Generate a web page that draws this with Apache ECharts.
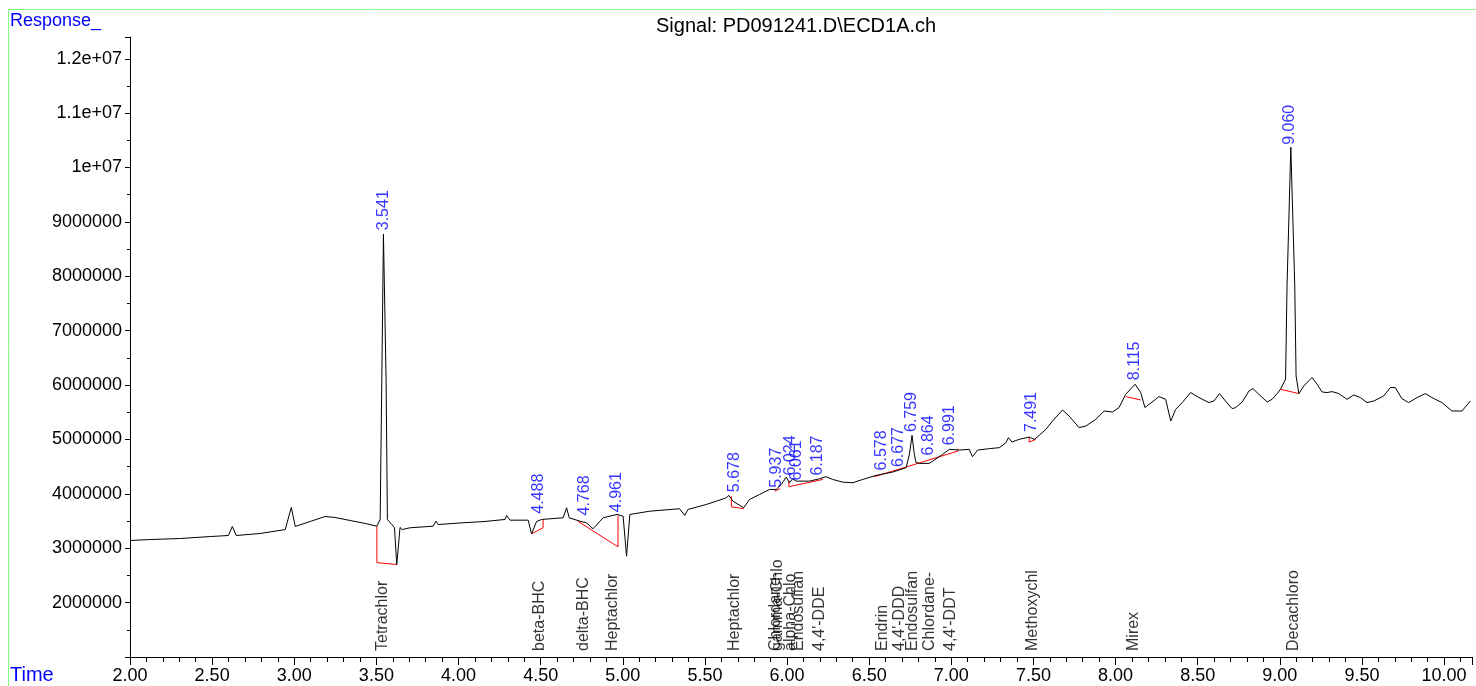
<!doctype html>
<html>
<head>
<meta charset="utf-8">
<title>Signal: PD091241.D\ECD1A.ch</title>
<style>
  html, body { margin: 0; padding: 0; background: #fff; }
  #main { width: 1476px; height: 686px; }
</style>
</head>
<body>
<div id="main"></div>
<script src="https://cdn.jsdelivr.net/npm/echarts@6/dist/echarts.min.js"></script>
<script>
// retention time (min) and detector response
var times = [
  2.00, 2.125, 2.307, 2.489, 2.599, 2.623, 2.647, 2.793, 2.945, 2.982,
  3.006, 3.097, 3.188, 3.249, 3.340, 3.432, 3.503, 3.523, 3.533, 3.543,
  3.559, 3.567, 3.594, 3.610, 3.624, 3.644, 3.657, 3.705, 3.845, 3.863,
  3.877, 4.027, 4.161, 4.283, 4.293, 4.313, 4.424, 4.445, 4.475, 4.506,
  4.637, 4.658, 4.674, 4.739, 4.779, 4.819, 4.880, 4.965, 5.002, 5.023,
  5.043, 5.164, 5.346, 5.377, 5.397, 5.509, 5.570, 5.630, 5.646, 5.670,
  5.736, 5.772, 5.833, 5.894, 5.934, 5.965, 5.995, 6.015, 6.035, 6.056,
  6.137, 6.198, 6.238, 6.278, 6.339, 6.400, 6.461, 6.542, 6.643, 6.725,
  6.745, 6.761, 6.775, 6.785, 6.805, 6.866, 6.886, 6.947, 6.988, 7.049,
  7.109, 7.129, 7.160, 7.231, 7.292, 7.333, 7.348, 7.369, 7.413, 7.474,
  7.505, 7.535, 7.576, 7.616, 7.677, 7.717, 7.778, 7.819, 7.880, 7.930,
  7.981, 8.021, 8.062, 8.119, 8.153, 8.179, 8.204, 8.244, 8.264, 8.305,
  8.336, 8.366, 8.406, 8.457, 8.508, 8.568, 8.599, 8.633, 8.669, 8.710,
  8.731, 8.771, 8.812, 8.836, 8.872, 8.923, 8.953, 8.984, 9.004, 9.035,
  9.044, 9.067, 9.091, 9.099, 9.116, 9.146, 9.196, 9.227, 9.257, 9.288,
  9.318, 9.359, 9.409, 9.450, 9.491, 9.531, 9.572, 9.632, 9.673, 9.703,
  9.743, 9.784, 9.835, 9.886, 9.926, 9.987, 10.048, 10.109, 10.160
];
var responses = [
  3142000, 3160000, 3179000, 3215000, 3234000, 3400000, 3234000, 3271000, 3344000, 3750000,
  3400000, 3492000, 3584000, 3565000, 3510000, 3455000, 3405000, 3529000, 6107000, 8777000,
  6107000, 3529000, 3436000, 3381000, 2700000, 3381000, 3344000, 3376000, 3405000, 3497000,
  3436000, 3468000, 3492000, 3529000, 3602000, 3516000, 3516000, 3265000, 3492000, 3529000,
  3560000, 3744000, 3560000, 3497000, 3468000, 3357000, 3560000, 3621000, 3589000, 2853000,
  3621000, 3681000, 3726000, 3602000, 3713000, 3805000, 3866000, 3928000, 3971000, 3866000,
  3744000, 3897000, 3989000, 4081000, 4081000, 4173000, 4308000, 4204000, 4278000, 4234000,
  4234000, 4278000, 4315000, 4265000, 4215000, 4204000, 4265000, 4339000, 4400000, 4481000,
  4726000, 5075000, 4726000, 4578000, 4560000, 4560000, 4602000, 4726000, 4818000, 4805000,
  4818000, 4683000, 4805000, 4831000, 4849000, 4941000, 5033000, 4952000, 5002000, 5044000,
  5002000, 5075000, 5186000, 5339000, 5541000, 5431000, 5217000, 5247000, 5370000, 5523000,
  5505000, 5586000, 5831000, 6015000, 5862000, 5586000, 5646000, 5738000, 5788000, 5738000,
  5339000, 5554000, 5678000, 5862000, 5770000, 5678000, 5707000, 5843000, 5707000, 5567000,
  5586000, 5689000, 5891000, 5936000, 5831000, 5689000, 5738000, 5843000, 5923000, 6107000,
  7825000, 10374000, 7825000, 6168000, 5843000, 5983000, 6138000, 6015000, 5873000, 5862000,
  5880000, 5843000, 5738000, 5818000, 5770000, 5678000, 5707000, 5799000, 5954000, 5954000,
  5751000, 5678000, 5770000, 5843000, 5770000, 5678000, 5523000, 5523000, 5707000
];

// integration baselines (red), each a polyline of [time, response]
var baselines = [
  [[3.503, 3405000], [3.503, 2736000], [3.624, 2700000]],
  [[4.445, 3265000], [4.515, 3376000], [4.515, 3529000]],
  [[4.726, 3497000], [4.971, 3026000], [4.971, 3602000]],
  [[5.661, 3958000], [5.661, 3762000], [5.736, 3726000]],
  [[5.924, 4050000], [5.958, 4094000]],
  [[6.011, 4247000], [6.011, 4131000], [6.218, 4265000]],
  [[6.532, 4315000], [7.040, 4786000], [7.040, 4830000]],
  [[7.474, 5044000], [7.474, 4952000], [7.515, 5002000]],
  [[8.062, 5788000], [8.153, 5726000]],
  [[9.004, 5923000], [9.116, 5843000]]
];

// peak retention time labels and the response they sit on
var peakLabels = ['3.541', '4.488', '4.768', '4.961', '5.678', '5.937', '6.024', '6.061',
  '6.187', '6.578', '6.677', '6.759', '6.864', '6.991', '7.491', '8.115', '9.060'];
var peakTimes = [3.541, 4.488, 4.768, 4.961, 5.678, 5.937, 6.024, 6.061,
  6.187, 6.578, 6.677, 6.759, 6.864, 6.991, 7.491, 8.115, 9.060];
var peakTops = [8810000, 3597000, 3565000, 3626000, 3994000, 4075000, 4302000, 4210000,
  4300000, 4394000, 4455000, 5100000, 4670000, 4855000, 5100000, 6050000, 10380000];

// compound names at their expected times
var compounds = ['Tetrachlor', 'beta-BHC', 'delta-BHC', 'Heptachlor', 'Heptachlor',
  'Chlordane-', 'gamma-Chlo', 'alpha-Chlo', 'Endosulfan', "4,4'-DDE", 'Endrin',
  "4,4'-DDD", 'Endosulfan', 'Chlordane-', "4,4'-DDT", 'Methoxychl', 'Mirex', 'Decachloro'];
var compoundTimes = [3.535, 4.495, 4.763, 4.939, 5.68,
  5.930, 5.945, 6.020, 6.068, 6.198, 6.579,
  6.684, 6.765, 6.866, 6.998, 7.494, 8.112, 9.085];

var FONT = 'Liberation Sans, Arial, sans-serif';

var chart = echarts.init(document.getElementById('main'), null, { devicePixelRatio: 1 });

var series = [{
  type: 'line',
  data: times.map(function (t, i) { return [t, responses[i]]; }),
  showSymbol: false,
  silent: true,
  lineStyle: { color: '#000', width: 1 },
  z: 3
}];

baselines.forEach(function (seg) {
  series.push({
    type: 'line',
    data: seg,
    showSymbol: false,
    silent: true,
    lineStyle: { color: '#ff0000', width: 1 },
    z: 2
  });
});

series.push({
  type: 'scatter',
  silent: true,
  symbolSize: 0,
  data: peakTimes.map(function (t, i) { return { value: [t, peakTops[i]], name: peakLabels[i] }; }),
  label: {
    show: true, position: 'top', distance: 2, rotate: 90,
    align: 'left', verticalAlign: 'middle',
    formatter: function (p) { return p.name; },
    color: '#0000ff', fontSize: 16, fontFamily: FONT
  },
  z: 4
});

series.push({
  type: 'scatter',
  silent: true,
  symbolSize: 0,
  data: compoundTimes.map(function (t, i) { return { value: [t, 1000000], name: compounds[i] }; }),
  label: {
    show: true, position: 'top', distance: 6, rotate: 90,
    align: 'left', verticalAlign: 'middle',
    formatter: function (p) { return p.name; },
    color: '#000', fontSize: 16, fontFamily: FONT
  },
  z: 4
});

chart.setOption({
  backgroundColor: '#fff',
  animation: false,
  title: {
    text: 'Signal: PD091241.D\\ECD1A.ch',
    left: 651, top: 11,
    textStyle: { fontSize: 20, fontWeight: 'normal', color: '#000', fontFamily: FONT }
  },
  grid: { left: 130, right: 4, top: 37, bottom: 29 },
  xAxis: {
    type: 'value',
    min: 2, max: 10.17, interval: 0.5,
    axisLine: { lineStyle: { color: '#000', width: 1 } },
    axisTick: { show: true, length: 8, lineStyle: { color: '#000' } },
    minorTick: { show: true, splitNumber: 5, length: 5, lineStyle: { color: '#000' } },
    splitLine: { show: false },
    axisLabel: {
      showMaxLabel: false, margin: 10,
      color: '#000', fontSize: 18, fontFamily: FONT,
      formatter: function (v) { return v.toFixed(2); }
    }
  },
  yAxis: {
    type: 'value',
    min: 1000000, max: 12400000, interval: 1000000,
    axisLine: { show: true, lineStyle: { color: '#000', width: 1 } },
    axisTick: { show: true, length: 5, lineStyle: { color: '#000' } },
    minorTick: { show: true, splitNumber: 2, length: 3, lineStyle: { color: '#000' } },
    splitLine: { show: false },
    axisLabel: {
      showMinLabel: false, showMaxLabel: false, margin: 8,
      color: '#000', fontSize: 18, fontFamily: FONT,
      formatter: function (v) {
        if (v >= 10000000) return parseFloat((v / 10000000).toFixed(2)) + 'e+07';
        return String(v);
      }
    }
  },
  graphic: [
    { type: 'line', shape: { x1: 8.5, y1: 9.5, x2: 1476, y2: 9.5 }, style: { stroke: '#80ff80', lineWidth: 1 }, silent: true },
    { type: 'line', shape: { x1: 8.5, y1: 9.5, x2: 8.5, y2: 686 }, style: { stroke: '#80ff80', lineWidth: 1 }, silent: true },
    { type: 'text', left: 10, top: 12, style: { text: 'Response_', fill: '#0000ff', fontSize: 18, fontFamily: FONT }, silent: true },
    { type: 'text', left: 10, top: 665, style: { text: 'Time', fill: '#0000ff', fontSize: 20, fontFamily: FONT }, silent: true }
  ],
  series: series
});

window.onresize = chart.resize;
</script>
</body>
</html>
